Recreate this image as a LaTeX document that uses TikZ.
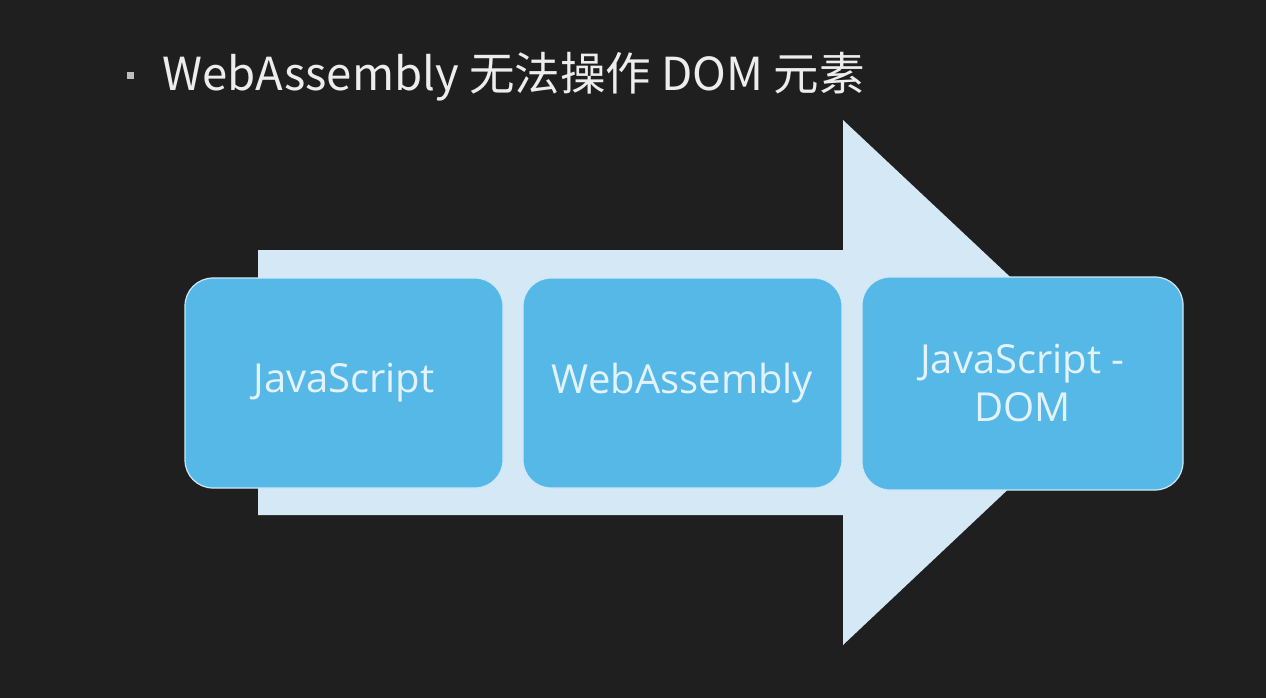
\documentclass[tikz,border=0pt]{standalone}
\usepackage{fontspec}
\setmainfont{Open Sans}
\newfontfamily\cjk{Noto Sans CJK SC}
\definecolor{bg}{HTML}{1F1F1F}
\definecolor{arrowfill}{HTML}{D4E8F5}
\definecolor{boxfill}{HTML}{55B8E7}
\definecolor{boxline}{HTML}{CFE9F8}
\definecolor{boxtext}{HTML}{E4F3FB}
\definecolor{titletext}{HTML}{EDEDED}
\tikzset{
  stepbox/.style={draw=boxline, line width=1.2pt, fill=boxfill, rounded corners=28pt,
    text=boxtext, font=\fontsize{40}{48}\selectfont, align=center, inner sep=0pt},
}
\begin{document}
\begin{tikzpicture}[x=1pt,y=-1pt]
\fill[bg] (0,0) rectangle (1266,698);
\path[use as bounding box] (0,0) rectangle (1266,698);
% big arrow
\fill[arrowfill] (258,250) -- (843,250) -- (843,120) -- (1122,382) -- (843,645) -- (843,515) -- (258,515) -- cycle;
% title
\fill[titletext!80!black] (127,72) rectangle (134,79);
\node[anchor=base west, inner sep=0pt, text=titletext, font=\cjk\fontsize{45.5}{56}\selectfont] (title) at (162,91) {WebAssembly 无法操作 DOM 元素};
% boxes
\node[stepbox, minimum width=318pt, minimum height=210pt] (js) at (344,383) {JavaScript};
\node[stepbox, minimum width=319pt, minimum height=210pt] (wasm) at (682.5,383) {WebAssembly};
\node[stepbox, minimum width=321pt, minimum height=213pt] (dom) at (1022.5,383.5) {JavaScript -\\DOM};
\end{tikzpicture}
\end{document}
